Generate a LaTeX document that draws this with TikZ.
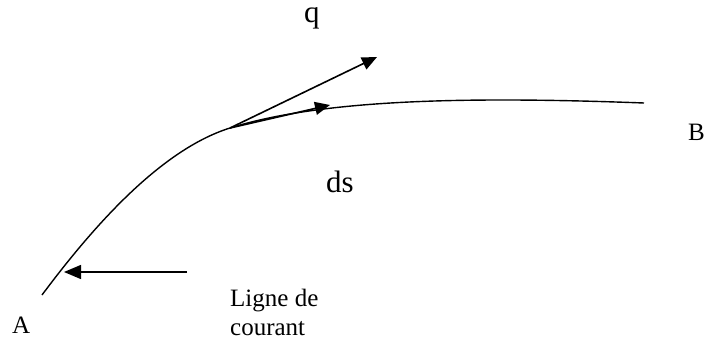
\documentclass[tikz,border=0pt]{standalone}
\usepackage{fontspec}
\setmainfont{Liberation Serif}
\usetikzlibrary{arrows.meta}
\begin{document}
\begin{tikzpicture}[x=1pt,y=-1pt,
  lbl/.style={inner sep=0pt,anchor=base west},
  big/.style={lbl,font=\fontsize{31}{36}\selectfont},
  small/.style={lbl,font=\fontsize{25}{29}\selectfont},
  streamline/.style={line width=1.4pt},
  vec/.style={line width=1.6pt,-{Triangle[length=15pt,width=13pt]}},
  flowarrow/.style={line width=1.4pt,-{Triangle[length=17pt,width=14pt]}}]
\useasboundingbox (0,0) rectangle (705,345);
% curve points
\coordinate (Aend) at (42,295);
\coordinate (T) at (230,128);
\coordinate (Bend) at (644,103);
\coordinate (qtip) at (377,57);
\coordinate (dstip) at (330,105);
\coordinate (fromR) at (187,272);
\coordinate (fromL) at (64,272);
% stream line
\draw[streamline] (Aend) .. controls (92,228) and (160,150) .. (T)
  .. controls (320,100) and (460,96) .. (Bend);
% vectors
\draw[vec] (T) -- (qtip);
\draw[vec] (T) -- (dstip);
\draw[flowarrow] (fromR) -- (fromL);
% labels
\node[big] (q) at (304,23) {q};
\node[big] (ds) at (326,192.5) {ds};
\node[small] (A) at (12,333) {A};
\node[small] (B) at (688,140.5) {B};
\node[small,align=left] (lc) at (230,335) {Ligne de\\courant};
\end{tikzpicture}
\end{document}
